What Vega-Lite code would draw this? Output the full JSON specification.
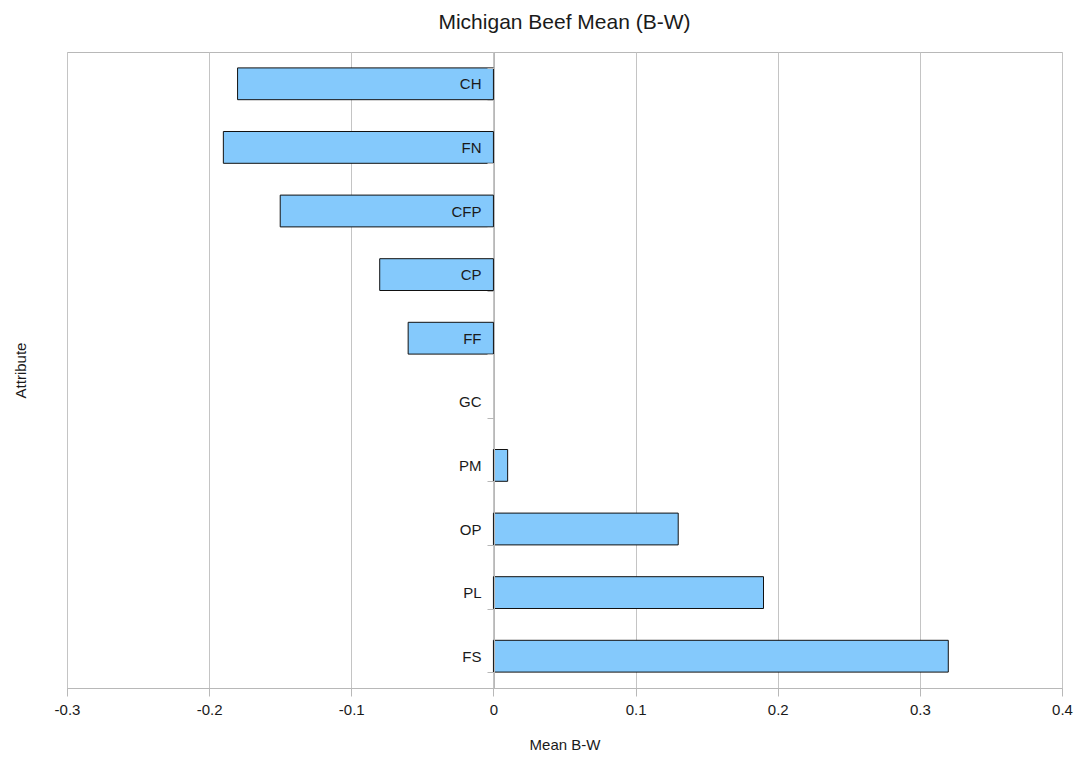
{
  "$schema": "https://vega.github.io/schema/vega-lite/v6.json",
  "width": 995,
  "height": 636,
  "autosize": {"type": "none"},
  "padding": {"left": 67, "top": 52, "right": 28, "bottom": 77},
  "background": "white",
  "title": {
    "text": "Michigan Beef Mean (B-W)",
    "font": "Liberation Sans",
    "fontSize": 21,
    "fontWeight": "normal",
    "color": "#1a1a1a",
    "offset": 12
  },
  "config": {
    "view": {"stroke": "#b8b8b8", "strokeWidth": 1},
    "axis": {
      "labelFont": "Liberation Sans",
      "titleFont": "Liberation Sans",
      "labelFontSize": 15,
      "titleFontSize": 15,
      "titleFontWeight": "normal",
      "labelColor": "#1a1a1a",
      "titleColor": "#1a1a1a"
    }
  },
  "data": {
    "values": [
      {"attribute": "CH", "mean": -0.18},
      {"attribute": "FN", "mean": -0.19},
      {"attribute": "CFP", "mean": -0.15},
      {"attribute": "CP", "mean": -0.08},
      {"attribute": "FF", "mean": -0.06},
      {"attribute": "GC", "mean": 0},
      {"attribute": "PM", "mean": 0.01},
      {"attribute": "OP", "mean": 0.13},
      {"attribute": "PL", "mean": 0.19},
      {"attribute": "FS", "mean": 0.32}
    ]
  },
  "mark": {"type": "bar", "fill": "#84c9fc", "strokeWidth": 1},
  "encoding": {
    "y": {
      "field": "attribute",
      "type": "nominal",
      "sort": null,
      "scale": {"paddingInner": 0.5, "paddingOuter": 0.25},
      "axis": {
        "orient": "left",
        "offset": -427,
        "zindex": 1,
        "title": "Attribute",
        "titleX": -474,
        "titleY": 318,
        "titleAngle": -90,
        "titleBaseline": "middle",
        "domainColor": "#b8b8b8",
        "tickColor": "#b8b8b8",
        "tickBand": "extent",
        "tickSize": 7,
        "labelPadding": 6,
        "grid": false
      }
    },
    "x": {
      "field": "mean",
      "type": "quantitative",
      "scale": {"domain": [-0.3, 0.4], "nice": false, "zero": false},
      "axis": {
        "title": "Mean B-W",
        "values": [-0.3, -0.2, -0.1, 0, 0.1, 0.2, 0.3, 0.4],
        "labelExpr": "datum.value < 0 ? '-' + format(-datum.value, '') : format(datum.value, '')",
        "labelFlush": false,
        "labelOverlap": false,
        "grid": true,
        "gridColor": "#c4c4c4",
        "domainColor": "#b8b8b8",
        "tickColor": "#b8b8b8",
        "tickSize": 8,
        "labelPadding": 6,
        "titlePadding": 20
      }
    },
    "stroke": {
      "condition": {"test": "datum.mean == 0", "value": null},
      "value": "#111111"
    }
  }
}
